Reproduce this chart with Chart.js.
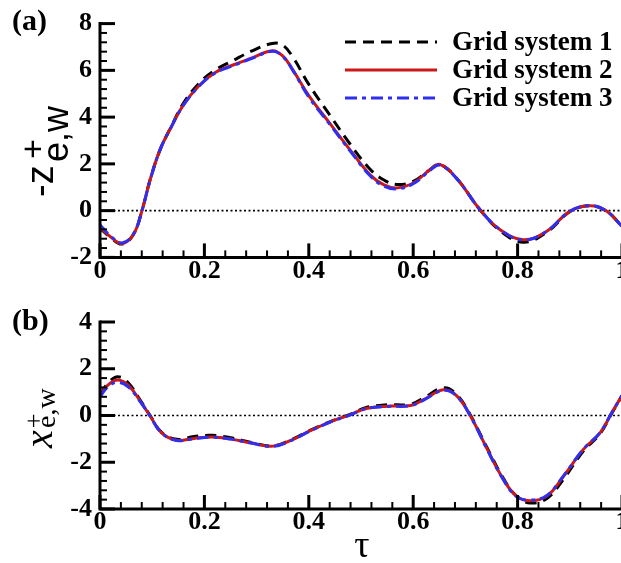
<!DOCTYPE html>
<html>
<head>
<meta charset="utf-8">
<script src="https://cdn.jsdelivr.net/npm/chart.js@4/dist/chart.umd.min.js"></script>
<style>
  html, body { margin: 0; padding: 0; background: #fff; overflow: hidden; width: 621px; height: 563px; }
  canvas { position: absolute; left: 0; }
  #chartA { top: 0; }
  #chartB { top: 290px; }
</style>
</head>
<body>
<canvas id="chartA" width="623" height="290"></canvas>
<canvas id="chartB" width="623" height="273"></canvas>
<script>
// series names
const seriesNames = ['Grid system 1', 'Grid system 2', 'Grid system 3'];

// (a) -z+e,w against tau
const tauA = [0, 0.02, 0.042, 0.064, 0.08, 0.096, 0.115, 0.137, 0.16, 0.19, 0.22, 0.255, 0.29, 0.33, 0.35, 0.37, 0.4, 0.44, 0.479, 0.517, 0.543, 0.568, 0.6, 0.632, 0.651, 0.683, 0.728, 0.766, 0.811, 0.856, 0.9, 0.939, 0.971, 1.0];
const grid1A = [-0.75, -1.14, -1.43, -1.02, -0.03, 1.32, 2.6, 3.62, 4.6, 5.45, 6.0, 6.42, 6.82, 7.15, 7.08, 6.55, 5.4, 4.1, 2.85, 1.78, 1.32, 1.12, 1.25, 1.75, 1.98, 1.39, 0.04, -0.85, -1.35, -0.92, -0.05, 0.21, -0.03, -0.67];
const grid2A = [-0.72, -1.12, -1.41, -1.02, -0.03, 1.32, 2.6, 3.6, 4.52, 5.35, 5.9, 6.23, 6.52, 6.84, 6.62, 6.0, 4.92, 3.74, 2.6, 1.54, 1.11, 0.97, 1.18, 1.75, 1.98, 1.39, 0.04, -0.81, -1.24, -0.88, -0.03, 0.21, -0.03, -0.67];
const grid3A = [-0.6, -1.08, -1.38, -1.0, -0.03, 1.3, 2.6, 3.6, 4.52, 5.33, 5.88, 6.2, 6.5, 6.82, 6.6, 5.98, 4.86, 3.7, 2.56, 1.5, 1.06, 0.93, 1.15, 1.72, 1.95, 1.38, 0.04, -0.8, -1.26, -0.88, -0.03, 0.22, -0.03, -0.67];

// (b) x+e,w against tau
const tauB = [0, 0.016, 0.034, 0.054, 0.077, 0.096, 0.118, 0.147, 0.18, 0.215, 0.25, 0.29, 0.332, 0.37, 0.4, 0.44, 0.48, 0.51, 0.55, 0.595, 0.62, 0.658, 0.683, 0.71, 0.742, 0.773, 0.798, 0.824, 0.856, 0.888, 0.926, 0.958, 0.98, 1.0];
const grid1B = [0.9, 1.4, 1.66, 1.4, 0.66, 0.0, -0.72, -1.02, -0.9, -0.85, -0.95, -1.15, -1.3, -1.0, -0.66, -0.27, 0.06, 0.34, 0.46, 0.48, 0.75, 1.18, 0.9, 0.0, -1.4, -2.7, -3.45, -3.74, -3.55, -2.72, -1.52, -0.78, 0.08, 0.85];
const grid2B = [0.88, 1.32, 1.52, 1.3, 0.62, -0.02, -0.74, -1.06, -0.98, -0.92, -1.0, -1.18, -1.31, -1.02, -0.68, -0.28, 0.04, 0.3, 0.4, 0.43, 0.68, 1.1, 0.85, -0.03, -1.45, -2.74, -3.45, -3.65, -3.45, -2.6, -1.45, -0.74, 0.1, 0.85];
const grid3B = [0.8, 1.25, 1.42, 1.22, 0.6, -0.03, -0.75, -1.07, -0.99, -0.93, -1.01, -1.18, -1.32, -1.03, -0.69, -0.29, 0.03, 0.3, 0.39, 0.42, 0.66, 1.08, 0.84, -0.04, -1.47, -2.76, -3.47, -3.62, -3.42, -2.58, -1.44, -0.73, 0.11, 0.86];

const SERIF = '"Liberation Serif", "Times New Roman", serif';
const SANS = '"Liberation Sans", Arial, sans-serif';

const styles = [
    {borderColor: '#000000', borderDash: [11, 7], order: 3},
    {borderColor: '#cc1818', borderDash: [], order: 2},
    {borderColor: '#2f2ff0', borderDash: [12, 5, 4, 5], order: 1}
];

function makeDatasets(tau, lists) {
    return lists.map((vals, i) => ({
        label: seriesNames[i],
        data: tau.map((t, j) => ({x: t, y: vals[j]})),
        borderColor: styles[i].borderColor,
        borderDash: styles[i].borderDash,
        order: styles[i].order,
        borderWidth: 3,
        pointRadius: 0,
        tension: 0.4,
        fill: false
    }));
}

// axes with inward ticks, dotted zero line, legend and titles
const framePlugin = {
    id: 'frame',
    beforeDatasetsDraw(chart) {
        const ctx = chart.ctx, ca = chart.chartArea;
        const y0 = chart.scales.y.getPixelForValue(0);
        ctx.save();
        ctx.strokeStyle = '#000';
        ctx.lineWidth = 1.6;
        ctx.setLineDash([2, 2.5]);
        ctx.beginPath();
        ctx.moveTo(ca.left, y0);
        ctx.lineTo(ca.right + 2, y0);
        ctx.stroke();
        ctx.restore();
    },
    afterDraw(chart, args, opts) {
        const ctx = chart.ctx, ca = chart.chartArea;
        const xs = chart.scales.x, ys = chart.scales.y;
        ctx.save();
        ctx.strokeStyle = '#000';
        ctx.setLineDash([]);
        // x ticks
        for (let i = 0; i <= 25; i++) {
            const px = xs.getPixelForValue(i * 0.04);
            const major = i % 5 === 0;
            ctx.lineWidth = major ? 3 : 2;
            ctx.beginPath();
            ctx.moveTo(px, ca.bottom);
            ctx.lineTo(px, ca.bottom - (major ? 14 : 7));
            ctx.stroke();
        }
        // y ticks
        const nY = Math.round((ys.max - ys.min) / 0.4);
        for (let i = 0; i <= nY; i++) {
            const v = ys.min + i * 0.4;
            const py = ys.getPixelForValue(v);
            const major = i % 5 === 0;
            ctx.lineWidth = major ? 3 : 2;
            ctx.beginPath();
            ctx.moveTo(ca.left, py);
            ctx.lineTo(ca.left + (major ? 15 : 7), py);
            ctx.stroke();
        }
        // axis lines
        ctx.lineWidth = 3;
        ctx.beginPath();
        ctx.moveTo(ca.left, ca.top - 1.5);
        ctx.lineTo(ca.left, ca.bottom);
        ctx.lineTo(ca.right + 2, ca.bottom);
        ctx.stroke();

        ctx.fillStyle = '#000';
        // panel label
        ctx.font = 'bold 30px ' + SERIF;
        ctx.textAlign = 'left';
        ctx.textBaseline = 'alphabetic';
        ctx.fillText(opts.panel, 12, opts.panelY);

        if (opts.legend) {
            chart.data.datasets.forEach((ds, i) => {
                const y = 42 + i * 28;
                ctx.strokeStyle = ds.borderColor;
                ctx.lineWidth = 3;
                ctx.setLineDash(ds.borderDash);
                ctx.beginPath();
                ctx.moveTo(345, y);
                ctx.lineTo(437, y);
                ctx.stroke();
                ctx.setLineDash([]);
                ctx.font = 'bold 27px ' + SERIF;
                ctx.textBaseline = 'middle';
                ctx.fillText(ds.label, 452, y + 1);
            });
        }
        opts.drawTitles(ctx);
        ctx.restore();
    }
};

function baseOptions(yMin, yMax, padTop, xHeight, extra) {
    return {
        responsive: false,
        animation: false,
        layout: {padding: {left: 0, top: padTop, right: 1, bottom: 0}},
        plugins: {
            legend: {display: false},
            tooltip: {enabled: false},
            frame: extra
        },
        scales: {
            x: {
                type: 'linear', min: 0, max: 1,
                grid: {display: false, drawTicks: false},
                border: {display: false},
                ticks: {
                    stepSize: 0.2, padding: -2, color: '#000', maxRotation: 0,
                    font: {family: SERIF, weight: 'bold', size: 26},
                    callback: v => String(Math.round(v * 10) / 10)
                },
                afterFit(s) { s.height = xHeight; s.paddingLeft = 0; s.paddingRight = 0; }
            },
            y: {
                min: yMin, max: yMax,
                grid: {display: false, drawTicks: false},
                border: {display: false},
                ticks: {
                    stepSize: 2, padding: 8, color: '#000',
                    font: {family: SERIF, weight: 'bold', size: 26},
                    callback: v => String(v)
                },
                afterFit(s) { s.width = 100; }
            }
        }
    };
}

new Chart(document.getElementById('chartA'), {
    type: 'line',
    data: {datasets: makeDatasets(tauA, [grid1A, grid2A, grid3A])},
    options: baseOptions(-2, 8, 23, 32.6, {
        panel: '(a)', panelY: 30, legend: true,
        drawTitles(ctx) {
            ctx.save();
            ctx.translate(53, 197);
            ctx.rotate(-Math.PI / 2);
            ctx.textAlign = 'left';
            ctx.textBaseline = 'alphabetic';
            ctx.font = '38px ' + SANS;
            ctx.fillText('-z', 0, 0);
            ctx.font = '34px ' + SANS;
            ctx.textAlign = 'center';
            ctx.fillText('+', 48, -9);
            ctx.textAlign = 'left';
            ctx.font = '36px ' + SANS;
            ctx.fillText('e,w', 35, 15);
            ctx.restore();
        }
    }),
    plugins: [framePlugin]
});

new Chart(document.getElementById('chartB'), {
    type: 'line',
    data: {datasets: makeDatasets(tauB, [grid1B, grid2B, grid3B])},
    options: baseOptions(-4, 4, 32, 54, {
        panel: '(b)', panelY: 40, legend: false,
        drawTitles(ctx) {
            ctx.save();
            ctx.translate(52, 158);
            ctx.rotate(-Math.PI / 2);
            ctx.textAlign = 'left';
            ctx.textBaseline = 'alphabetic';
            ctx.font = 'italic 40px ' + SERIF;
            ctx.fillText('x', 0, 0);
            ctx.font = '26px ' + SERIF;
            ctx.textAlign = 'center';
            ctx.fillText('+', 27, -10);
            ctx.textAlign = 'left';
            ctx.font = '28px ' + SERIF;
            ctx.fillText('e,w', 20, 3);
            ctx.restore();
            ctx.font = '38px ' + SERIF;
            ctx.textAlign = 'center';
            ctx.fillText('\u03c4', 362, 267);
        }
    }),
    plugins: [framePlugin]
});
</script>
</body>
</html>
